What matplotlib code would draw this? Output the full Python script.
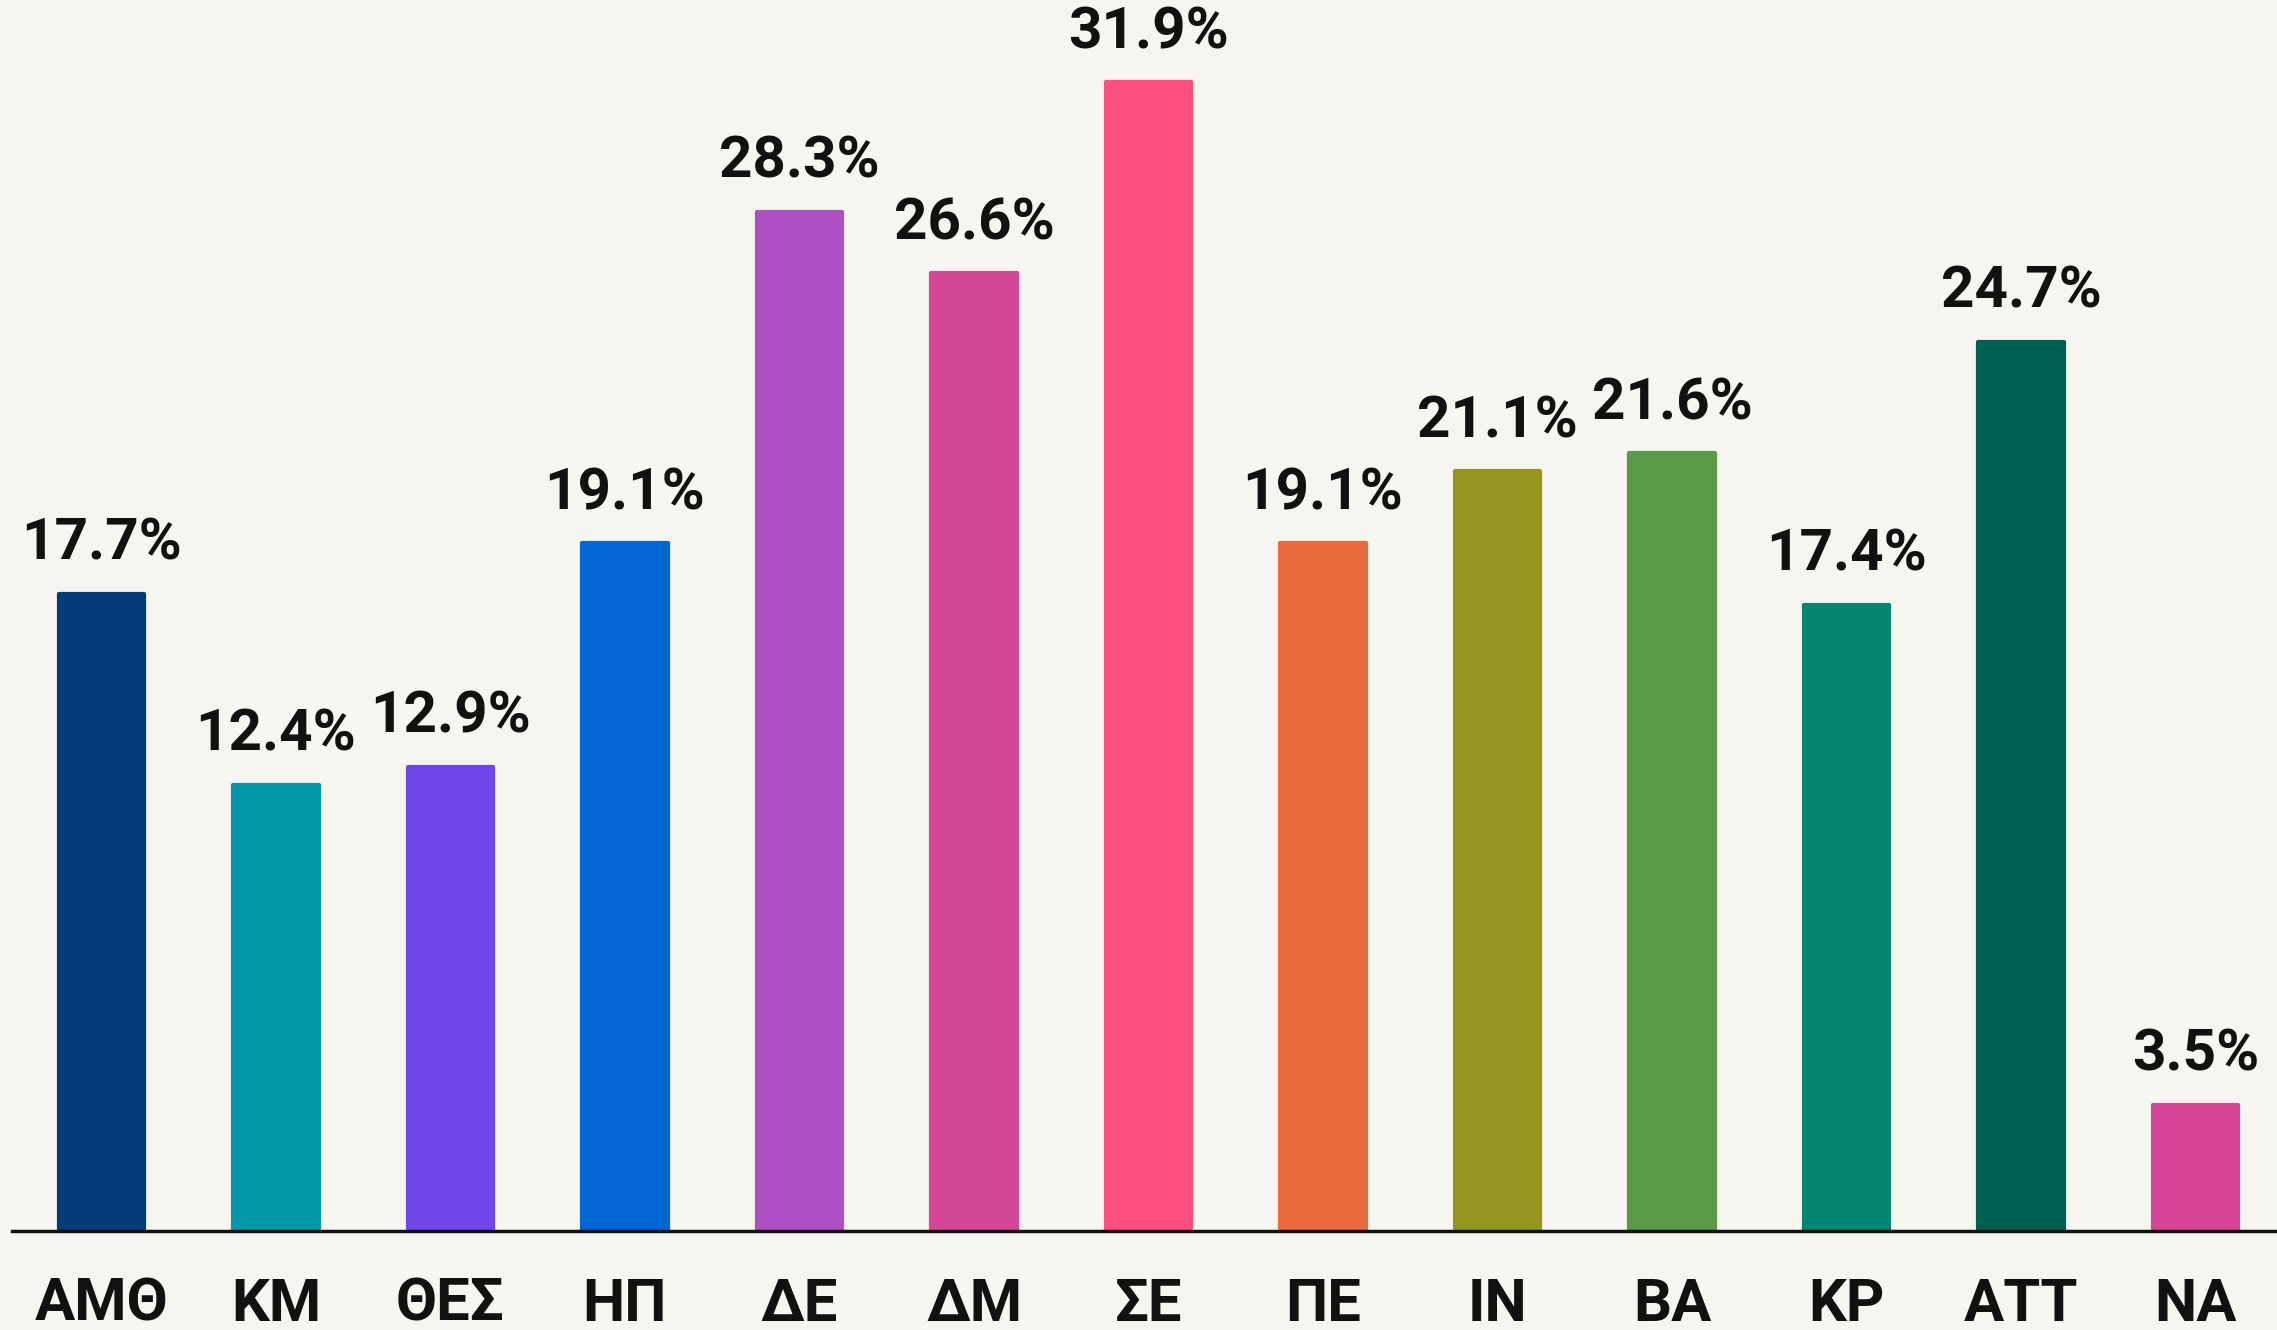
import matplotlib
matplotlib.use("Agg")
import matplotlib.pyplot as plt

categories = ["ΑΜΘ", "ΚΜ", "ΘΕΣ", "ΗΠ", "ΔΕ", "ΔΜ", "ΣΕ", "ΠΕ", "ΙΝ", "ΒΑ", "ΚΡ", "ΑΤΤ", "ΝΑ"]
values = [17.7, 12.4, 12.9, 19.1, 28.3, 26.6, 31.9, 19.1, 21.1, 21.6, 17.4, 24.7, 3.5]
colors = ["#023D7A", "#0098A8", "#7048E8", "#0367D3", "#AE4FC4", "#D34896", "#FF4F82",
          "#E86C3D", "#96961F", "#5A9A48", "#008571", "#005F53", "#D64597"]

bg = "#F7F5EF"
plt.rcParams['font.family'] = ['Roboto', 'DejaVu Sans']

fig = plt.figure(figsize=(22.77, 13.30), dpi=100, facecolor=bg)
ax = fig.add_axes([12/2277, 99/1330, 1 - 12/2277, 1 - 99/1330])
ax.set_facecolor(bg)

x = list(range(len(categories)))
bars = ax.bar(x, values, width=0.49, color=colors, edgecolor=colors, linewidth=3, zorder=2)
for b in bars:
    b.set_joinstyle('round')

for xi, v in zip(x, values):
    ax.annotate(f"{v:.1f}%", (xi, v), xytext=(0, 16), textcoords="offset points",
                ha="center", va="bottom", fontsize=42, fontweight="bold", color="#111111")

ax.set_xlim(-0.512, 12.466)
ax.set_ylim(0, 34.19)
ax.set_xticks(x)
ax.set_xticklabels(categories, fontsize=43, fontweight="bold", color="#111111")
ax.tick_params(axis="x", length=0, pad=33)
ax.set_yticks([])
for s in ["top", "right", "left"]:
    ax.spines[s].set_visible(False)
ax.spines["bottom"].set_linewidth(2.5)
ax.spines["bottom"].set_color("#111111")
ax.spines["bottom"].set_zorder(3)

fig.savefig("out.png", dpi=100, facecolor=bg)
